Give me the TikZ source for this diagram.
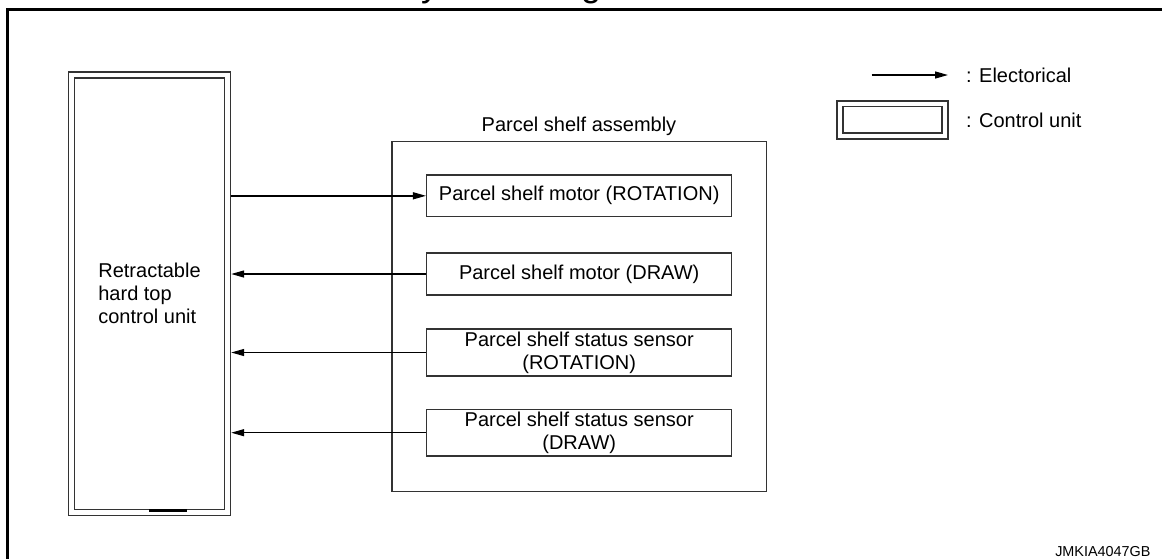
\documentclass[tikz,border=0pt]{standalone}
\usepackage{fontspec}
\setmainfont{Liberation Sans}
\usetikzlibrary{arrows.meta}
\newcommand\fsmain{\fontsize{20}{23}\selectfont}
\definecolor{boxc}{rgb}{0.2,0.2,0.2}
\begin{document}
\begin{tikzpicture}[x=1pt,y=-1pt,
  box/.style={draw=boxc, line width=1.5pt, minimum width=305pt, inner sep=0pt, align=center, font=\fsmain, text=black},
  cubox/.style={draw=boxc, line width=1.5pt, double=white, double distance=4.4pt, outer sep=3.7pt, inner sep=0pt},
  conn/.style={line width=1.4pt, -{Triangle[length=13pt,width=7pt]}},
  lbl/.style={font=\fsmain, inner sep=0pt, text=black}
]
\useasboundingbox (0,0) rectangle (1162,558);
\clip (0,0) rectangle (1162,558);

% title (cut off at the top)
\node[anchor=base west, font=\fontsize{36}{40}\selectfont, inner sep=0pt] (title) at (397,-3.6) {System Diagram};

% outer frame
\draw[line width=3pt] (7.3,9.5) rectangle (1190,600);

% control unit
\node[cubox, minimum width=156pt, minimum height=437.3pt, align=left, font=\fsmain] (cu) at (149.5,293.7)
  {Retractable\\hard top\\control unit};
\coordinate (mk1) at (149,510.3);
\coordinate (mk2) at (187,510.3);
\draw[line width=2.4pt] (mk1) -- (mk2);

% parcel shelf assembly
\node[draw=boxc, line width=1.5pt, minimum width=374.7pt, minimum height=350pt] (asm) at (579.3,316.7) {};
\node[lbl] (asmlbl) at (579,126.7) {Parcel shelf assembly};

\node[box, minimum height=41.7pt] (m1) at (579.2,195.8) {Parcel shelf motor (ROTATION)};
\node[box, minimum height=42pt] (m2) at (579.2,274) {Parcel shelf motor (DRAW)};
\node[box, minimum height=47pt] (s1) at (579.2,352.5) {Parcel shelf status sensor\\(ROTATION)};
\node[box, minimum height=46.7pt] (s2) at (579.2,432.7) {Parcel shelf status sensor\\(DRAW)};

\draw[conn] (cu.east |- m1.west) -- (m1.west);
\draw[conn] (m2.west) -- (cu.east |- m2.west);
\draw[conn] (s1.west) -- (cu.east |- s1.west);
\draw[conn] (s2.west) -- (cu.east |- s2.west);

% legend
\coordinate (la1) at (871.7,75);
\coordinate (la2) at (948,75);
\draw[conn] (la1) -- (la2);
\node[lbl, anchor=west] (lt1) at (966,75) {: Electorical};
\node[cubox, minimum width=105pt, minimum height=32.3pt] (lcu) at (892.5,119.9) {};
\node[lbl, anchor=west] (lt2) at (966,120) {: Control unit};

% footer code
\node[anchor=base east, font=\fontsize{14.4}{16}\selectfont, inner sep=0pt] (code) at (1150.7,556.5) {JMKIA4047GB};
\end{tikzpicture}
\end{document}
